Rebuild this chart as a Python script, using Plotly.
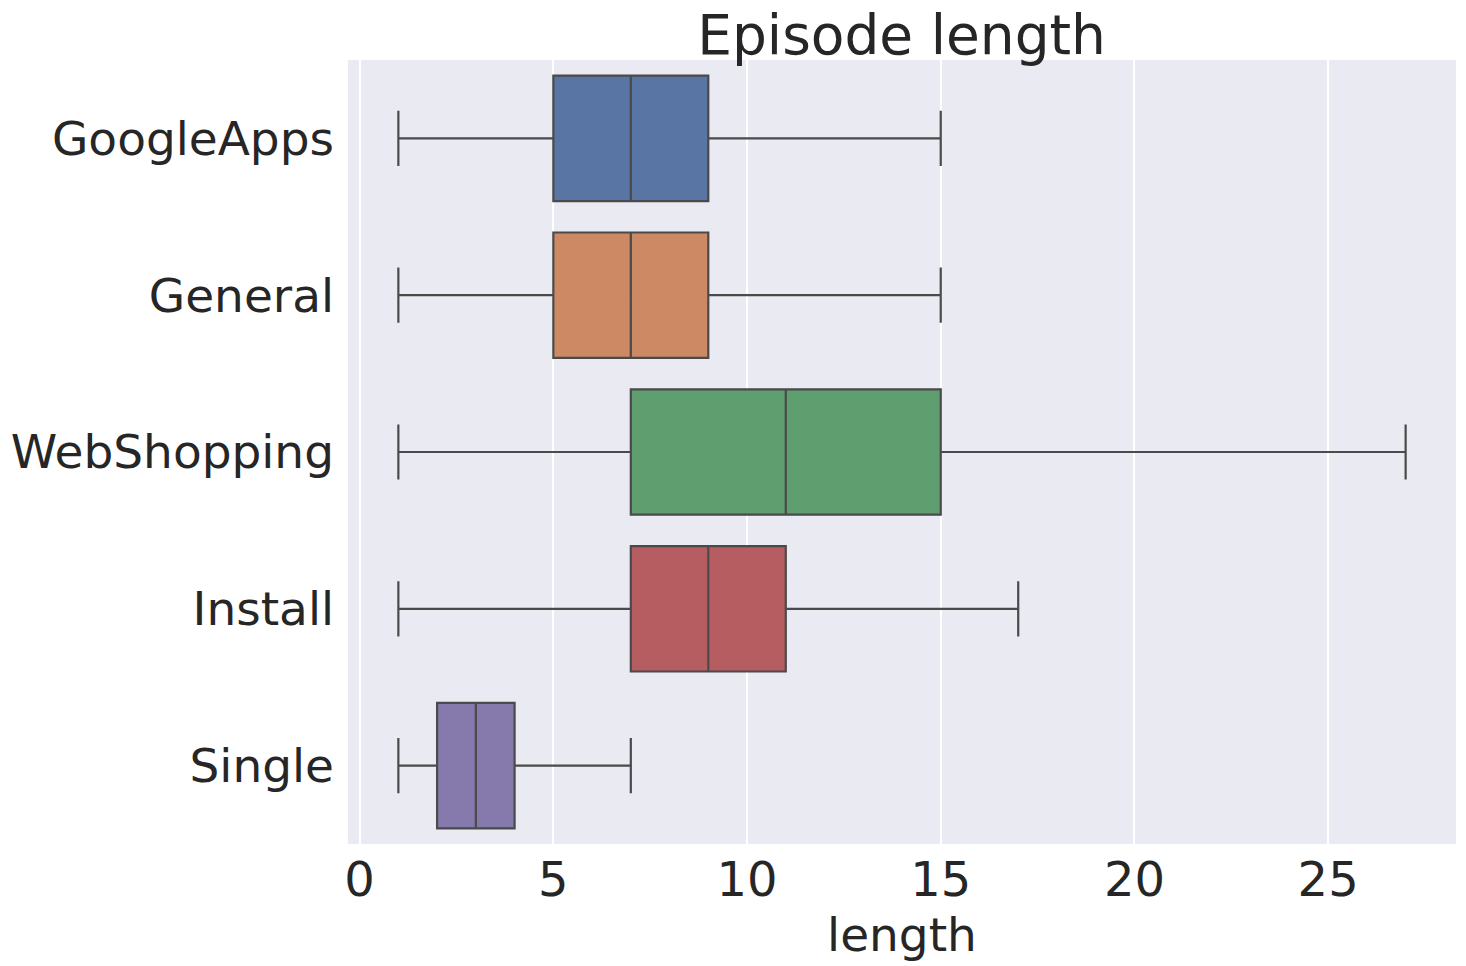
"""Episode length box plot (seaborn-style) in Plotly"""
import plotly.graph_objects as go

categories = ["GoogleApps", "General", "WebShopping", "Install", "Single"]
lower_whisker = [1, 1, 1, 1, 1]
q1_values = [5, 5, 7, 7, 2]
median_values = [7, 7, 11, 9, 3]
q3_values = [9, 9, 15, 11, 4]
upper_whisker = [15, 15, 27, 17, 7]

# seaborn "deep" palette, desaturated to 0.75
box_colors = ["#5875a4", "#cc8963", "#5f9e6e", "#b55d60", "#857aab"]
line_color = "#4a4a4a"
text_color = "#262626"

fig = go.Figure()
for i, cat in enumerate(categories):
    fig.add_trace(go.Box(
        y=[cat],
        q1=[q1_values[i]],
        median=[median_values[i]],
        q3=[q3_values[i]],
        lowerfence=[lower_whisker[i]],
        upperfence=[upper_whisker[i]],
        orientation="h",
        width=0.8,
        whiskerwidth=0.44,
        fillcolor=box_colors[i],
        line=dict(color=line_color, width=2.2),
        boxpoints=False,
        hoverinfo="skip",
        showlegend=False,
    ))

fig.update_layout(
    width=1466,
    height=966,
    title=dict(text="Episode length", x=0.615, xanchor="center", y=0.964, yanchor="middle",
               font=dict(size=55, color=text_color, family="DejaVu Sans")),
    font=dict(family="DejaVu Sans", color=text_color),
    paper_bgcolor="white",
    plot_bgcolor="#eaeaf2",
    margin=dict(l=348, r=10, t=60, b=122),
    xaxis=dict(
        range=[-0.3, 28.3],
        tickvals=[0, 5, 10, 15, 20, 25],
        showgrid=True, gridcolor="white", gridwidth=1.5,
        zeroline=False, showline=False, ticks="",
        tickfont=dict(size=48),
        ticklabelstandoff=3,
        title=dict(text="length", font=dict(size=47), standoff=6),
    ),
    yaxis=dict(
        type="category",
        categoryorder="array", categoryarray=categories,
        range=[4.5, -0.5],
        showgrid=False, zeroline=False, showline=False, ticks="",
        tickfont=dict(size=47),
        ticklabelstandoff=13,
    ),
)

# drop the browser's default body margin so the figure sits at the page origin
fig.write_html("out.html", config={"displayModeBar": False},
               post_script="document.body.style.margin='0';")
